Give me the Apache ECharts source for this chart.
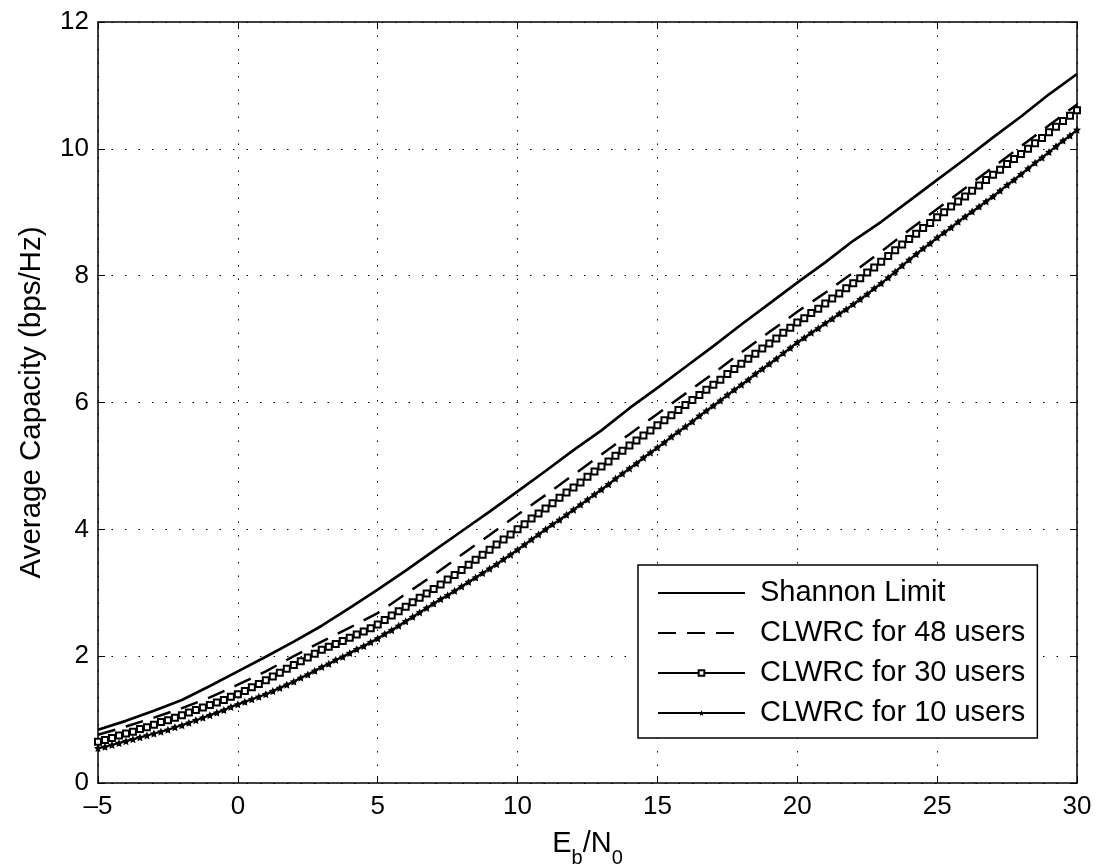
<!DOCTYPE html>
<html>
<head>
<meta charset="utf-8">
<script src="https://cdn.jsdelivr.net/npm/echarts@6/dist/echarts.min.js"></script>
<style>html,body{margin:0;padding:0;background:#fff}#c{width:1097px;height:866px}</style>
</head>
<body>
<div id="c"></div>
<script>
// E_b/N_0 grids
const xInt = [-5,-4,-3,-2,-1,0,1,2,3,4,5,6,7,8,9,10,11,12,13,14,15,16,17,18,19,20,21,22,23,24,25,26,27,28,29,30];
const xStart = -5, xStep = 0.25;

const shannon = [0.84,0.98,1.14,1.31,1.53,1.76,1.99,2.23,2.48,2.76,3.05,3.35,3.66,3.97,4.28,4.60,4.92,5.25,5.56,5.91,6.23,6.56,6.89,7.23,7.56,7.89,8.21,8.55,8.85,9.18,9.51,9.84,10.18,10.51,10.86,11.18];

const users48 = [0.76,0.89,1.03,1.18,1.35,1.55,1.76,2.00,2.23,2.45,2.68,2.98,3.28,3.60,3.91,4.23,4.54,4.86,5.18,5.50,5.82,6.14,6.46,6.79,7.11,7.43,7.73,8.05,8.38,8.72,9.05,9.38,9.71,10.04,10.37,10.70];

const users30 = [0.65,0.68,0.71,0.75,0.78,0.81,0.85,0.88,0.92,0.96,0.99,1.03,1.07,1.11,1.15,1.19,1.23,1.27,1.31,1.36,
1.40,1.45,1.51,1.56,1.62,1.68,1.74,1.80,1.86,1.92,1.98,2.04,2.10,2.15,2.19,2.24,2.29,2.34,2.39,2.44,
2.50,2.57,2.64,2.71,2.78,2.85,2.92,2.99,3.06,3.13,3.21,3.28,3.36,3.44,3.52,3.60,3.68,3.76,3.84,3.92,
4.00,4.08,4.17,4.25,4.33,4.41,4.50,4.58,4.66,4.74,4.83,4.91,4.99,5.07,5.16,5.24,5.32,5.40,5.48,5.56,
5.64,5.72,5.80,5.88,5.96,6.04,6.12,6.20,6.28,6.36,6.45,6.53,6.61,6.69,6.77,6.85,6.93,7.01,7.10,7.18,
7.26,7.33,7.41,7.48,7.56,7.64,7.72,7.80,7.88,7.96,8.05,8.13,8.22,8.31,8.40,8.49,8.58,8.66,8.75,8.83,
8.92,9.00,9.09,9.17,9.25,9.34,9.42,9.51,9.59,9.67,9.76,9.84,9.92,10.00,10.09,10.17,10.26,10.35,10.44,10.52,
10.61];

const users10 = [0.55,0.57,0.60,0.63,0.66,0.69,0.72,0.75,0.78,0.81,0.84,0.88,0.91,0.95,0.99,1.03,1.07,1.11,1.15,1.20,
1.24,1.28,1.32,1.36,1.40,1.45,1.50,1.55,1.60,1.66,1.71,1.77,1.83,1.88,1.94,1.99,2.05,2.11,2.16,2.22,
2.28,2.35,2.41,2.48,2.55,2.62,2.69,2.76,2.83,2.90,2.96,3.03,3.10,3.17,3.24,3.31,3.38,3.45,3.53,3.60,
3.68,3.76,3.84,3.92,4.00,4.08,4.15,4.23,4.31,4.39,4.47,4.55,4.63,4.71,4.80,4.88,4.96,5.04,5.13,5.21,
5.29,5.37,5.46,5.54,5.62,5.70,5.79,5.87,5.95,6.03,6.12,6.20,6.28,6.36,6.45,6.53,6.61,6.69,6.78,6.86,
6.95,7.02,7.10,7.17,7.25,7.32,7.40,7.47,7.55,7.63,7.71,7.80,7.88,7.97,8.06,8.16,8.25,8.34,8.43,8.51,
8.60,8.68,8.76,8.85,8.93,9.01,9.09,9.17,9.25,9.34,9.43,9.51,9.60,9.69,9.78,9.86,9.95,10.04,10.13,10.21,
10.30];

const seriesNames = ['Shannon Limit','CLWRC for 48 users','CLWRC for 30 users','CLWRC for 10 users'];

const pairInt = arr => arr.map((v,i)=>[xInt[i], v]);
const pairQ = arr => arr.map((v,i)=>[xStart + i*xStep, v]);

const FONT = 'Liberation Sans, Arial, sans-serif';
const starPath = 'path://M0,-10 L2.9,-4 L9.5,-3.1 L4.7,1.5 L5.9,8.1 L0,5 L-5.9,8.1 L-4.7,1.5 L-9.5,-3.1 L-2.9,-4 Z';

const chart = echarts.init(document.getElementById('c'), null, {renderer:'canvas'});
const axisCommon = {
  axisLine:{show:true, onZero:false, lineStyle:{color:'#000', width:1.5}},
  axisTick:{show:true, inside:true, length:7, lineStyle:{color:'#000', width:1}},
};
const noSym = {color:'rgba(0,0,0,0)', borderWidth:0, borderColor:'rgba(0,0,0,0)'};
chart.setOption({
  animation:false,
  backgroundColor:'#fff',
  grid:{left:98, right:20, top:22, bottom:83, show:false, containLabel:false, outerBoundsMode:'none'},
  xAxis:[{
    type:'value', min:-5, max:30, interval:5, position:'bottom',
    ...axisCommon,
    axisLabel:{color:'#000', fontSize:26, fontFamily:FONT, margin:11,
      formatter:v=>String(v).replace('-','\u2013')},
    splitLine:{show:true, lineStyle:{color:'#000', type:[1.5,12], width:1}},
    name:'{e|E}{s|b}{e|/N}{s|0}', nameLocation:'middle', nameGap:46,
    nameTextStyle:{rich:{e:{fontSize:29, lineHeight:32, fontFamily:FONT, color:'#000', verticalAlign:'top'},
                         s:{fontSize:20, lineHeight:20, fontFamily:FONT, color:'#000', padding:[19,0,0,0], verticalAlign:'top'}}}
  },{
    type:'value', min:-5, max:30, interval:5, position:'top',
    ...axisCommon, axisLabel:{show:false}, splitLine:{show:false}
  }],
  yAxis:[{
    type:'value', min:0, max:12, interval:2, position:'left',
    ...axisCommon,
    axisLabel:{color:'#000', fontSize:26, fontFamily:FONT, margin:9},
    splitLine:{show:true, lineStyle:{color:'#000', type:[1.5,12], width:1}},
    name:'Average Capacity (bps/Hz)', nameLocation:'middle', nameGap:51,
    nameTextStyle:{fontSize:29.5, fontFamily:FONT, color:'#000'}
  },{
    type:'value', min:0, max:12, interval:2, position:'right',
    ...axisCommon, axisLabel:{show:false}, splitLine:{show:false}
  }],
  legend:{
    orient:'vertical', left:638, top:565,
    data:seriesNames,
    backgroundColor:'#fff', borderColor:'#000', borderWidth:1.5,
    padding:[13,12,10,19],
    itemWidth:87, itemHeight:7, itemGap:10,
    textStyle:{fontSize:29, fontFamily:FONT, color:'#000', lineHeight:30, padding:[0,0,0,10]}
  },
  series:[
    {name:seriesNames[0], type:'line', data:pairInt(shannon), showSymbol:false, symbol:'none',
     lineStyle:{color:'#000', width:2.7}, itemStyle:noSym, z:5},
    {name:seriesNames[1], type:'line', data:pairInt(users48), showSymbol:false, symbol:'none',
     lineStyle:{color:'#000', width:2.5, type:[18,11]}, itemStyle:noSym, z:4},
    {name:seriesNames[2], type:'line', data:pairQ(users30), symbol:'emptyRect', symbolSize:6, showAllSymbol:true,
     lineStyle:{color:'#000', width:1}, itemStyle:{color:'#000', borderColor:'#000', borderWidth:1}, z:3},
    {name:seriesNames[3], type:'line', data:pairQ(users10), symbol:starPath, symbolSize:8, showAllSymbol:true,
     lineStyle:{color:'#000', width:2.2}, itemStyle:{color:'#000'}, z:3}
  ]
});
</script>
</body>
</html>
